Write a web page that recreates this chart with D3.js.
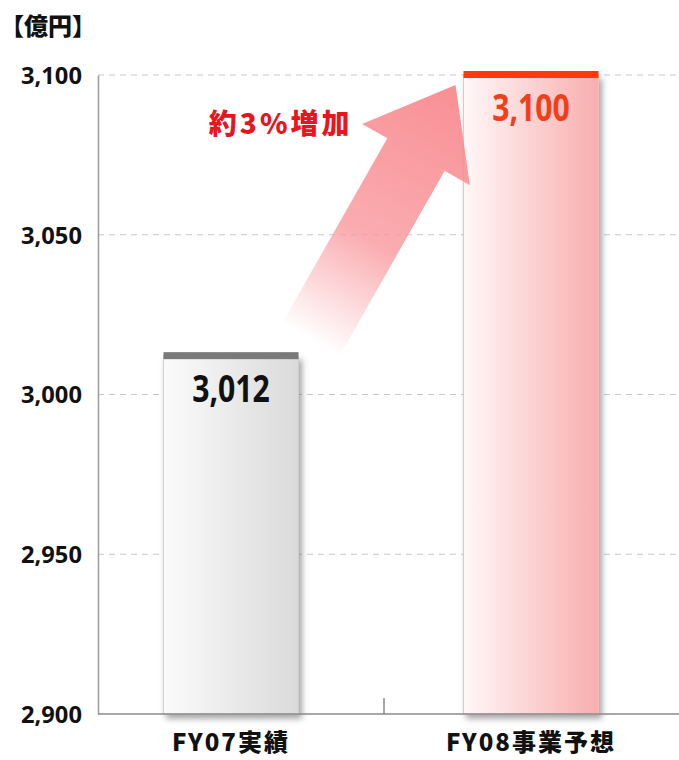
<!DOCTYPE html>
<html>
<head>
<meta charset="utf-8">
<script src="https://cdn.jsdelivr.net/npm/d3@7"></script>
<style>
  html, body { margin: 0; padding: 0; background: #fff; }
  svg { display: block; }
  .num { font-family: "Noto Sans", "DejaVu Sans", sans-serif; font-weight: bold; }
  .jp { font-family: "Noto Sans CJK JP", sans-serif; font-weight: 900; }
</style>
</head>
<body>
<svg id="chart" width="679" height="760"></svg>
<script>
// Revenue: FY07 actual vs FY08 plan (100 million yen)
const categories = ["FY07実績", "FY08事業予想"];
const values = [3012, 3100];
const valueLabels = ["3,012", "3,100"];
const yTicks = [2900, 2950, 3000, 3050, 3100];
const unitLabel = "【億円】";
const growthLabel = "約3%増加";

const svg = d3.select("#chart");
const plot = { left: 98, right: 679, top: 75, bottom: 714 };

const x = d3.scaleBand().domain(categories).range([81, 681]);
const y = d3.scaleLinear().domain([2900, 3100]).range([plot.bottom, plot.top]);
const barW = x.bandwidth() * 0.45;

const defs = svg.append("defs");
const g1 = defs.append("linearGradient").attr("id", "gGray");
g1.append("stop").attr("offset", "0%").attr("stop-color", "#fbfbfb");
g1.append("stop").attr("offset", "100%").attr("stop-color", "#dadada");
const g2 = defs.append("linearGradient").attr("id", "gPink");
g2.append("stop").attr("offset", "0%").attr("stop-color", "#fff7f7");
g2.append("stop").attr("offset", "100%").attr("stop-color", "#f9aeae");
const sh = defs.append("filter").attr("id", "shadow")
  .attr("x", "-20%").attr("y", "-10%").attr("width", "140%").attr("height", "130%");
sh.append("feDropShadow").attr("dx", 3).attr("dy", 4).attr("stdDeviation", 3)
  .attr("flood-color", "#555").attr("flood-opacity", 0.55);

// unit label
svg.append("text").attr("class", "jp").attr("x", 0).attr("y", 35)
  .attr("font-size", 24).attr("fill", "#111").text(unitLabel);

// gridlines
svg.append("g").selectAll("line").data(yTicks.filter(d => d !== 2900)).join("line")
  .attr("x1", plot.left).attr("x2", plot.right)
  .attr("y1", d => y(d)).attr("y2", d => y(d))
  .attr("stroke", "#c8c8c8").attr("stroke-width", 1.2).attr("stroke-dasharray", "6,5");

// y axis
const yAxis = svg.append("g").attr("transform", `translate(${plot.left},0)`)
  .call(d3.axisLeft(y).tickValues(yTicks).tickSize(0).tickPadding(16)
    .tickFormat(d3.format(",")));
yAxis.select(".domain").attr("stroke", "#9a9a9a").attr("stroke-width", 1.5);
yAxis.selectAll("text").attr("class", "num").attr("font-size", 23).attr("fill", "#111")
  .attr("dy", "0.36em")
  .attr("textLength", 61).attr("lengthAdjust", "spacingAndGlyphs");

// bars
const colors = [{ fill: "url(#gGray)", cap: "#7a7a7a", text: "#111", edge: "#cfcfcf" },
                { fill: "url(#gPink)", cap: "#ff3a0a", text: "#f0401a", edge: "#f3c0c0" }];
const labelSize = 37;
const bars = svg.append("g").selectAll("g").data(categories).join("g");
bars.append("rect")
  .attr("x", d => x(d) + (x.bandwidth() - barW) / 2)
  .attr("y", (d, i) => y(values[i]))
  .attr("width", barW)
  .attr("height", (d, i) => plot.bottom - y(values[i]))
  .attr("fill", (d, i) => colors[i].fill)
  .attr("stroke", (d, i) => colors[i].edge).attr("stroke-width", 1)
  .attr("filter", "url(#shadow)");
bars.append("rect")
  .attr("x", d => x(d) + (x.bandwidth() - barW) / 2)
  .attr("y", (d, i) => y(values[i]) - 4)
  .attr("width", barW).attr("height", 7)
  .attr("fill", (d, i) => colors[i].cap);
bars.append("text").attr("class", "num")
  .attr("x", d => x(d) + x.bandwidth() / 2 - labelSize * 1.05)
  .attr("y", (d, i) => y(values[i]) + 46)
  .attr("font-size", labelSize)
  .attr("textLength", labelSize * 2.1).attr("lengthAdjust", "spacingAndGlyphs")
  .attr("fill", (d, i) => colors[i].text)
  .text((d, i) => valueLabels[i]);

// x axis baseline and divider tick
svg.append("line").attr("x1", plot.left).attr("x2", plot.right)
  .attr("y1", plot.bottom).attr("y2", plot.bottom)
  .attr("stroke", "#8a8a8a").attr("stroke-width", 1.5);
const boundary = x(categories[1]);
svg.append("line").attr("x1", boundary + 3).attr("x2", boundary + 3)
  .attr("y1", plot.bottom - 16).attr("y2", plot.bottom)
  .attr("stroke", "#8a8a8a").attr("stroke-width", 1.5);

// category labels
svg.append("g").selectAll("text").data(categories).join("text")
  .attr("class", "jp")
  .attr("x", d => x(d) + x.bandwidth() / 2).attr("y", 751)
  .attr("text-anchor", "middle").attr("font-size", 24).attr("letter-spacing", 2)
  .attr("fill", "#111")
  .text(d => d);

// growth arrow from the FY07 bar top to the FY08 bar top
const x0 = x(categories[0]) + (x.bandwidth() + barW) / 2;
const x1 = x(categories[1]) + (x.bandwidth() - barW) / 2;
const tail = [x0 + 12, y(values[0]) - 16];
const tip = [x1 - 8, y(values[1]) + 10];
const dx = tip[0] - tail[0], dy = tip[1] - tail[1];
const len = Math.hypot(dx, dy);
const ang = Math.atan2(dy, dx) * 180 / Math.PI;
const headLen = 80, headHalf = 62, shaftHalf = 33;
const ag = defs.append("linearGradient").attr("id", "gArrow")
  .attr("gradientUnits", "userSpaceOnUse")
  .attr("x1", 0).attr("y1", 0).attr("x2", len).attr("y2", 0);
ag.append("stop").attr("offset", "0%").attr("stop-color", "#f9979c").attr("stop-opacity", 0);
ag.append("stop").attr("offset", "40%").attr("stop-color", "#f9979c").attr("stop-opacity", 0.8);
ag.append("stop").attr("offset", "100%").attr("stop-color", "#f8898f").attr("stop-opacity", 0.95);
const hb = len - headLen;
svg.append("path")
  .attr("transform", `translate(${tail[0]},${tail[1]}) rotate(${ang})`)
  .attr("d", `M0,${-shaftHalf} L${hb},${-shaftHalf} L${hb},${-headHalf} L${len},0 L${hb},${headHalf} L${hb},${shaftHalf} L0,${shaftHalf} Z`)
  .attr("fill", "url(#gArrow)");

svg.append("text").attr("class", "jp")
  .attr("x", tip[0] - 103).attr("y", tip[1] + 49)
  .attr("text-anchor", "end").attr("font-size", 28).attr("letter-spacing", 3)
  .attr("fill", "#e8141e")
  .text(growthLabel);
</script>
</body>
</html>
